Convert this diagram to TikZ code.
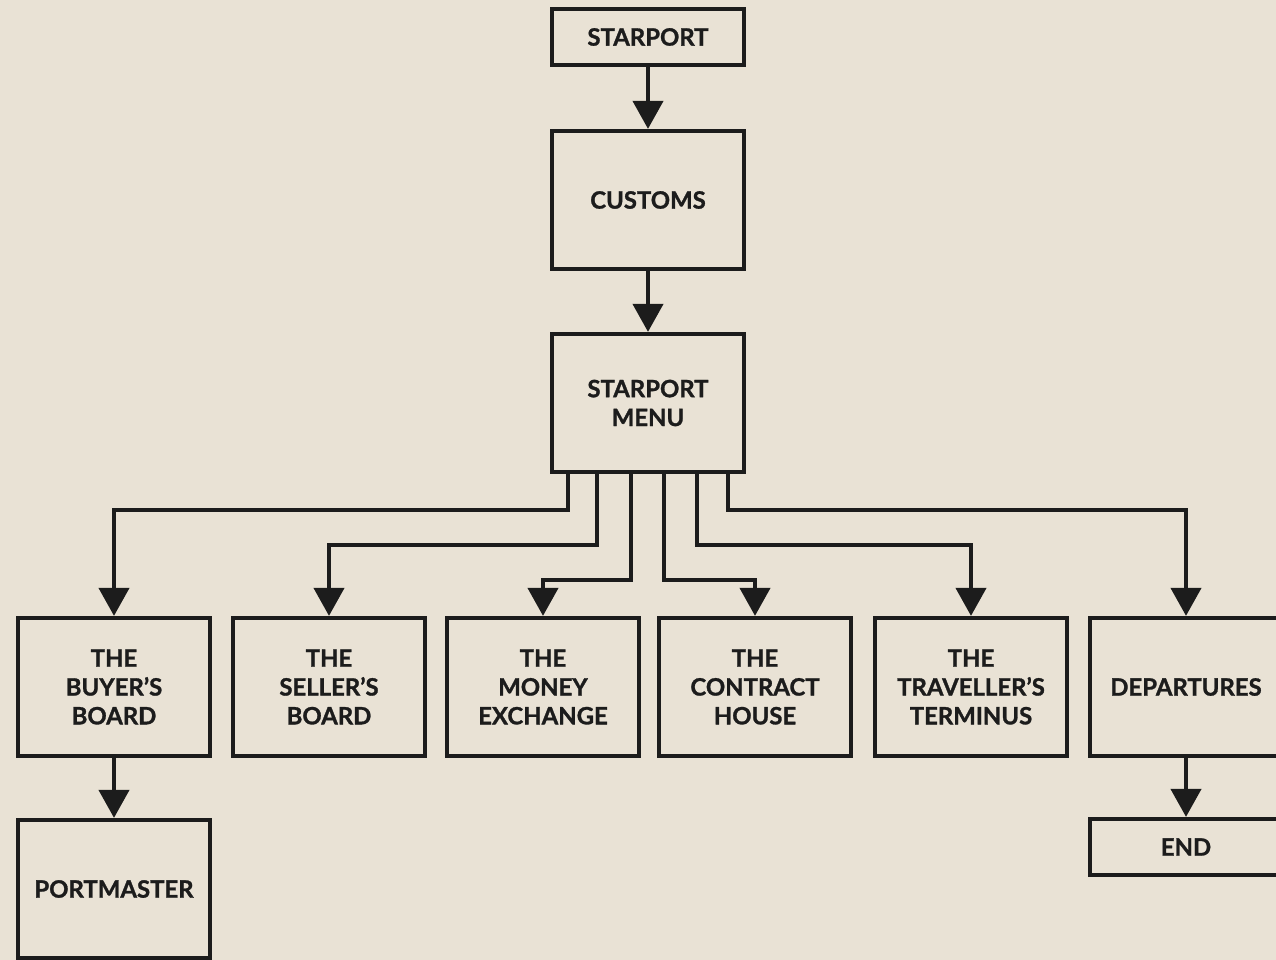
\documentclass[tikz,border=0pt]{standalone}
\usepackage{fontspec}
\setmainfont{Lato}[BoldFeatures={FakeBold=1.2}]
\usetikzlibrary{positioning,arrows.meta,calc}
\definecolor{cpaper}{HTML}{E9E2D5}
\definecolor{cink}{HTML}{1C1C1C}
\tikzset{
  box/.style={draw=cink, line width=0.105cm, minimum width=4.78cm, minimum height=3.45cm, align=center, inner sep=2pt, text=cink, font=\bfseries\fontsize{17}{20.5}\selectfont},
  flat/.style={box, minimum height=1.4cm},
  sig/.style={-{Triangle[length=0.7cm,width=0.75cm]}, line width=0.105cm, draw=cink},
}

\begin{document}
\begin{tikzpicture}[x=0.025cm, y=-0.025cm]
      \fill[cpaper] (0,0) rectangle (1276,960);
      \useasboundingbox (0,0) rectangle (1276,960);
      \node[flat] (sp) at (648,37) {STARPORT};
      \node[box] (cu) at (648,200) {CUSTOMS};
      \node[box] (mn) at (648,403) {STARPORT\\MENU};
      \node[box] (bb) at (114,687) {THE\\BUYER'S\\BOARD};
      \node[box] (sb) at (329,687) {THE\\SELLER'S\\BOARD};
      \node[box] (me) at (543,687) {THE\\MONEY\\EXCHANGE};
      \node[box] (ch) at (755,687) {THE\\CONTRACT\\HOUSE};
      \node[box] (tt) at (971,687) {THE\\TRAVELLER'S\\TERMINUS};
      \node[box] (dp) at (1186,687) {DEPARTURES};
      \node[box] (pm) at (114,889) {PORTMASTER};
      \node[flat] (en) at (1186,847) {END};
      \draw[sig] (sp) -- (cu); \draw[sig] (cu) -- (mn);
      \draw[sig] (bb) -- (pm); \draw[sig] (dp) -- (en);
      \foreach \dx/\dy/\t in {-80/36/bb, -51/71/sb, -17/106/me, 16/106/ch, 49/71/tt, 80/36/dp}
        \draw[sig] ($(mn.south)+(\dx,0)$) -- ++(0,\dy) -| (\t.north);
    \end{tikzpicture}
\end{document}
